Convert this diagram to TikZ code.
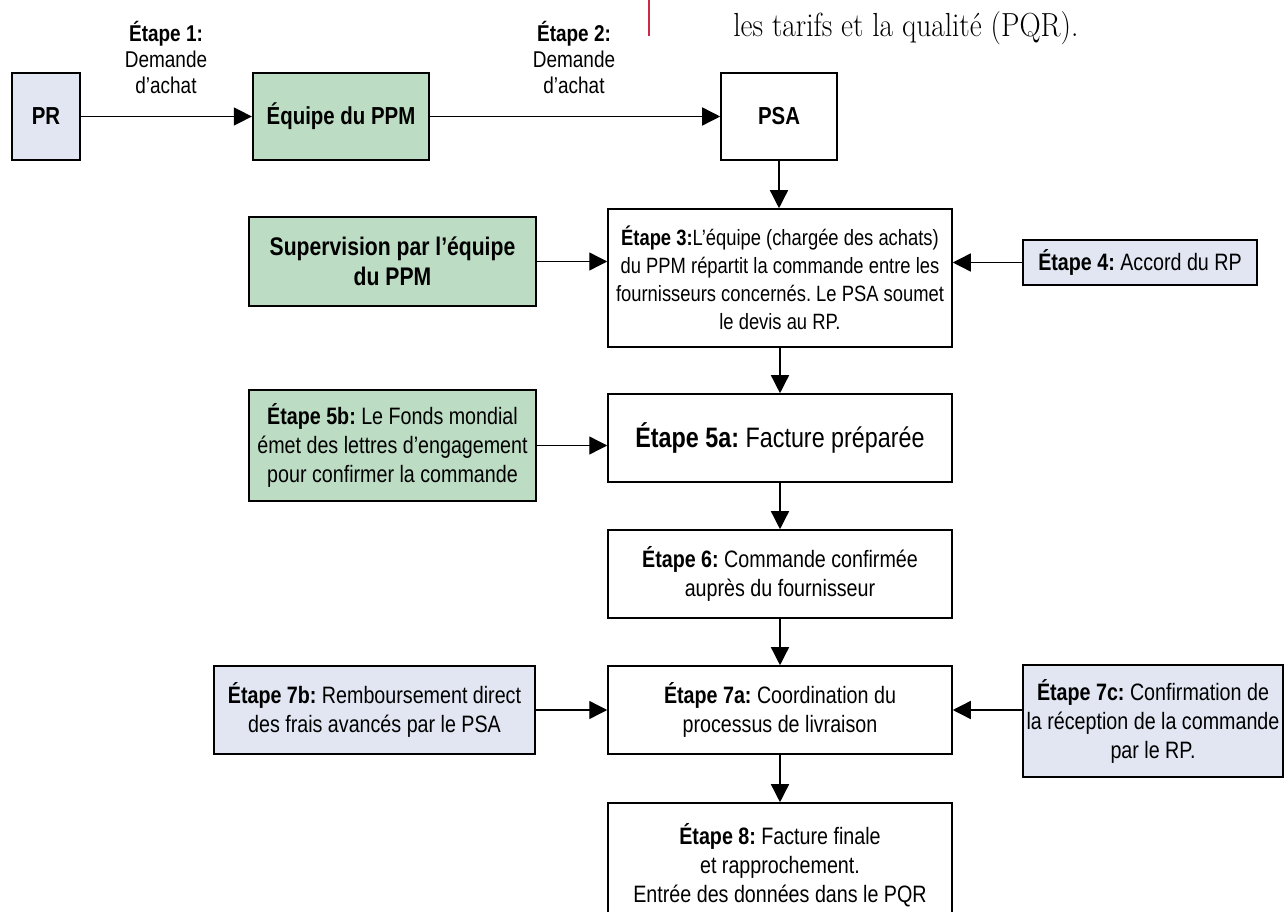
\documentclass[tikz,border=0pt]{standalone}
\usepackage{fontspec}
\newfontfamily\condsans[FakeStretch=0.83]{Liberation Sans}
\newfontfamily\pagefont[FakeStretch=0.88]{Latin Modern Roman}
\usetikzlibrary{arrows.meta}
\definecolor{boxblue}{RGB}{225,230,242}
\definecolor{boxgreen}{RGB}{188,220,196}
\definecolor{pagered}{RGB}{205,40,70}
\frenchspacing

\begin{document}
\begin{tikzpicture}[x=0.02cm, y=-0.02cm,
    box/.style={draw, line width=0.9pt, align=center, inner sep=2pt,
        font=\condsans\fontsize{13.5}{16.5}\selectfont},
    bluebox/.style={box, fill=boxblue, line width=1.3pt},
    greenbox/.style={box, fill=boxgreen, line width=1.3pt},
    lbl/.style={align=center, inner sep=1pt, font=\condsans\fontsize{13}{14.8}\selectfont},
    arr/.style={-{Triangle[length=0.36cm,width=0.36cm]}, line width=0.8pt}]
    \clip (0,0) rectangle (1285,912);

    % bit of the page text above the chart
    \draw[pagered, line width=0.6pt] (649,0) -- (649,36);
    \node[anchor=base west, inner sep=0, font=\pagefont\fontsize{19}{22}\selectfont] (pagetxt) at (733,37) {les tarifs et la qualité (PQR).};

    % top row
    \node[bluebox, minimum width=1.36cm, minimum height=1.74cm, font=\condsans\bfseries\fontsize{14}{16}\selectfont] (pr) at (46,116.5) {PR};
    \node[greenbox, minimum width=3.52cm, minimum height=1.74cm, font=\condsans\bfseries\fontsize{14}{16}\selectfont] (ppm) at (341,116.5) {Équipe du PPM};
    \node[box, minimum width=2.32cm, minimum height=1.74cm, font=\condsans\bfseries\fontsize{14}{16}\selectfont] (psa) at (779,116.5) {PSA};
    \node[lbl] (lbl1) at (166,57) {\textbf{Étape 1:}\\Demande\\d’achat};
    \node[lbl] (lbl2) at (574,57) {\textbf{Étape 2:}\\Demande\\d’achat};

    % middle column
    \node[box, minimum width=6.88cm, minimum height=2.76cm, font=\condsans\fontsize{12.6}{16}\selectfont] (s3) at (780,278)
        {\textbf{Étape 3:}L’équipe (chargée des achats)\\du PPM répartit la commande entre les\\fournisseurs concernés. Le PSA soumet\\le devis au RP.};
    \node[box, minimum width=6.88cm, minimum height=1.76cm, font=\condsans\fontsize{16}{19}\selectfont] (s5a) at (780,438)
        {\textbf{Étape 5a:} Facture préparée};
    \node[box, minimum width=6.88cm, minimum height=1.76cm] (s6) at (780,574)
        {\textbf{Étape 6:} Commande confirmée\\auprès du fournisseur};
    \node[box, minimum width=6.88cm, minimum height=1.76cm] (s7a) at (780,710)
        {\textbf{Étape 7a:} Coordination du\\processus de livraison};
    \node[box, minimum width=6.88cm, minimum height=2.48cm] (s8) at (780,865)
        {\textbf{Étape 8:} Facture finale\\et rapprochement.\\Entrée des données dans le PQR};

    % side boxes
    \node[greenbox, minimum width=5.74cm, minimum height=1.78cm, font=\condsans\bfseries\fontsize{14.5}{17}\selectfont] (sup) at (392.5,261.5)
        {Supervision par l’équipe\\du PPM};
    \node[bluebox, minimum width=4.68cm, minimum height=0.9cm] (s4) at (1140,262.5)
        {\textbf{Étape 4:} Accord du RP};
    \node[greenbox, minimum width=5.74cm, minimum height=2.22cm] (s5b) at (392.5,445.5)
        {\textbf{Étape 5b:} Le Fonds mondial\\émet des lettres d’engagement\\pour confirmer la commande};
    \node[bluebox, minimum width=6.42cm, minimum height=1.76cm] (s7b) at (374.5,710)
        {\textbf{Étape 7b:} Remboursement direct\\des frais avancés par le PSA};
    \node[bluebox, minimum width=5.2cm, minimum height=2.24cm] (s7c) at (1153,721)
        {\textbf{Étape 7c:} Confirmation de\\la réception de la commande\\par le RP.};

    % connectors
    \draw[arr] (pr) -- (ppm);
    \draw[arr] (ppm) -- (psa);
    \draw[arr] (psa.south) -- (psa.south |- s3.north);
    \draw[arr] (sup.east) -- (sup.east -| s3.west);
    \draw[arr] (s4.west) -- (s4.west -| s3.east);
    \draw[arr] (s3) -- (s5a);
    \draw[arr] (s5b.east) -- (s5b.east -| s5a.west);
    \draw[arr] (s5a) -- (s6);
    \draw[arr] (s6) -- (s7a);
    \draw[arr] (s7b) -- (s7a);
    \draw[arr] (s7c.west |- s7a.east) -- (s7a.east);
    \draw[arr] (s7a) -- (s8);
\end{tikzpicture}
\end{document}
